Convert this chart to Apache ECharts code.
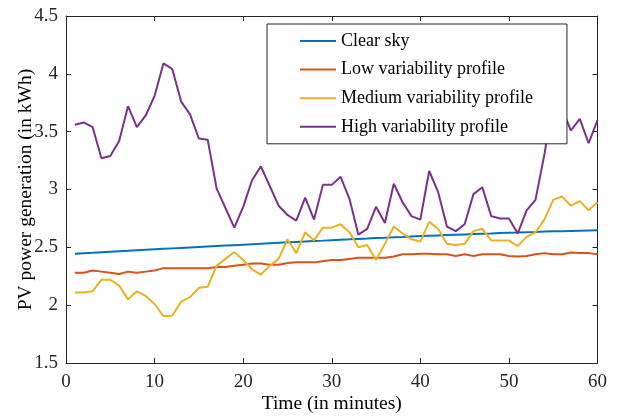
<!DOCTYPE html>
<html>
<head>
<meta charset="utf-8">
<script src="https://cdn.jsdelivr.net/npm/echarts@6/dist/echarts.min.js"></script>
<style>
  html, body { margin: 0; padding: 0; background: #fff; }
  #chart { width: 618px; height: 416px; }
</style>
</head>
<body>
<div id="chart"></div>
<script>
// minutes 1..60
var minutes = [1, 2, 3, 4, 5, 6, 7, 8, 9, 10, 11, 12, 13, 14, 15, 16, 17, 18, 19, 20,
  21, 22, 23, 24, 25, 26, 27, 28, 29, 30, 31, 32, 33, 34, 35, 36, 37, 38, 39, 40,
  41, 42, 43, 44, 45, 46, 47, 48, 49, 50, 51, 52, 53, 54, 55, 56, 57, 58, 59, 60]

var clearSky = [2.445, 2.449, 2.453, 2.458, 2.462, 2.466, 2.470, 2.475, 2.479, 2.483,
  2.487, 2.491, 2.495, 2.499, 2.503, 2.507, 2.511, 2.515, 2.519, 2.523,
  2.527, 2.531, 2.535, 2.539, 2.543, 2.547, 2.551, 2.555, 2.558, 2.562,
  2.566, 2.569, 2.573, 2.576, 2.580, 2.583, 2.587, 2.590, 2.594, 2.597,
  2.600, 2.603, 2.606, 2.609, 2.612, 2.615, 2.618, 2.620, 2.623, 2.626,
  2.628, 2.631, 2.633, 2.636, 2.638, 2.640, 2.642, 2.644, 2.646, 2.648]

var lowVar = [2.28, 2.28, 2.30, 2.29, 2.28, 2.27, 2.29, 2.28, 2.29, 2.30,
  2.32, 2.32, 2.32, 2.32, 2.32, 2.32, 2.33, 2.33, 2.34, 2.35,
  2.36, 2.36, 2.35, 2.35, 2.365, 2.37, 2.37, 2.37, 2.38, 2.39,
  2.39, 2.40, 2.41, 2.41, 2.41, 2.41, 2.42, 2.44, 2.44, 2.445,
  2.445, 2.44, 2.44, 2.425, 2.44, 2.425, 2.44, 2.44, 2.44, 2.425,
  2.42, 2.425, 2.44, 2.45, 2.44, 2.44, 2.455, 2.45, 2.45, 2.44]

var mediumVar = [2.11, 2.11, 2.12, 2.22, 2.22, 2.17, 2.05, 2.12, 2.08, 2.01,
  1.905, 1.91, 2.03, 2.07, 2.15, 2.16, 2.34, 2.40, 2.46, 2.39,
  2.31, 2.265, 2.34, 2.40, 2.57, 2.45, 2.63, 2.56, 2.67, 2.67,
  2.70, 2.63, 2.50, 2.52, 2.39, 2.53, 2.68, 2.62, 2.57, 2.55,
  2.72, 2.66, 2.53, 2.52, 2.53, 2.64, 2.66, 2.56, 2.56, 2.56,
  2.51, 2.59, 2.63, 2.74, 2.91, 2.94, 2.86, 2.90, 2.82, 2.89]

var highVar = [3.56, 3.58, 3.54, 3.27, 3.29, 3.42, 3.72, 3.54, 3.64, 3.81,
  4.09, 4.04, 3.76, 3.65, 3.44, 3.43, 3.01, 2.84, 2.67, 2.85,
  3.08, 3.20, 3.03, 2.86, 2.78, 2.73, 2.93, 2.74, 3.04, 3.04,
  3.11, 2.92, 2.61, 2.66, 2.85, 2.71, 3.05, 2.89, 2.77, 2.74,
  3.16, 2.98, 2.68, 2.64, 2.70, 2.96, 3.02, 2.77, 2.75, 2.75,
  2.62, 2.82, 2.91, 3.30, 3.78, 3.70, 3.51, 3.61, 3.40, 3.60]

var seriesNames = ['Clear sky', 'Low variability profile', 'Medium variability profile', 'High variability profile']
var colors = ['#0072BD', '#D95319', '#EDB120', '#7E2F8E']

var font = 'Liberation Serif'
var axisColor = '#262626'

function pairs(vals) {
  return minutes.map(function (m, i) { return [m, vals[i]] })
}

var chart = echarts.init(document.getElementById('chart'))

// box around the plot, ticks pointing in on all four sides
var frameAxis = {
  axisLine: { show: true, onZero: false, lineStyle: { color: axisColor, width: 1 } },
  axisTick: { show: true, inside: true, length: 5, lineStyle: { color: axisColor } },
  splitLine: { show: false }
}

chart.setOption({
  animation: false,
  grid: { left: 66, right: 20.5, top: 16, bottom: 53, outerBoundsMode: 'none', containLabel: false },
  legend: {
    orient: 'vertical',
    left: 267,
    top: 24,
    z: 20,
    padding: [8, 34, 8, 33],
    itemGap: 10.6,
    itemWidth: 36,
    itemHeight: 2,
    icon: 'rect',
    backgroundColor: '#fff',
    borderColor: '#262626',
    borderWidth: 1,
    textStyle: { fontFamily: font, fontSize: 18, lineHeight: 18, color: '#000' },
    data: seriesNames
  },
  xAxis: [
    Object.assign({
      type: 'value', min: 0, max: 60, interval: 10,
      name: 'Time (in minutes)', nameLocation: 'middle', nameGap: 31, nameMoveOverlap: false,
      nameTextStyle: { fontFamily: font, fontSize: 19.5, color: '#000' },
      axisLabel: { fontFamily: font, fontSize: 19, color: axisColor, margin: 10 }
    }, frameAxis),
    Object.assign({
      type: 'value', min: 0, max: 60, interval: 10, position: 'top',
      axisLabel: { show: false }
    }, frameAxis)
  ],
  yAxis: [
    Object.assign({
      type: 'value', min: 1.5, max: 4.5, interval: 0.5,
      name: 'PV power generation (in kWh)', nameLocation: 'middle', nameGap: 30, nameMoveOverlap: false,
      nameTextStyle: { fontFamily: font, fontSize: 19.5, color: '#000' },
      axisLabel: { fontFamily: font, fontSize: 19, color: axisColor, margin: 8 }
    }, frameAxis),
    Object.assign({
      type: 'value', min: 1.5, max: 4.5, interval: 0.5, position: 'right',
      axisLabel: { show: false }
    }, frameAxis)
  ],
  series: [clearSky, lowVar, mediumVar, highVar].map(function (vals, i) {
    return {
      name: seriesNames[i],
      type: 'line',
      data: pairs(vals),
      symbol: 'none',
      z: 2,
      lineStyle: { color: colors[i], width: 2 },
      itemStyle: { color: colors[i] }
    }
  })
})
</script>
</body>
</html>
